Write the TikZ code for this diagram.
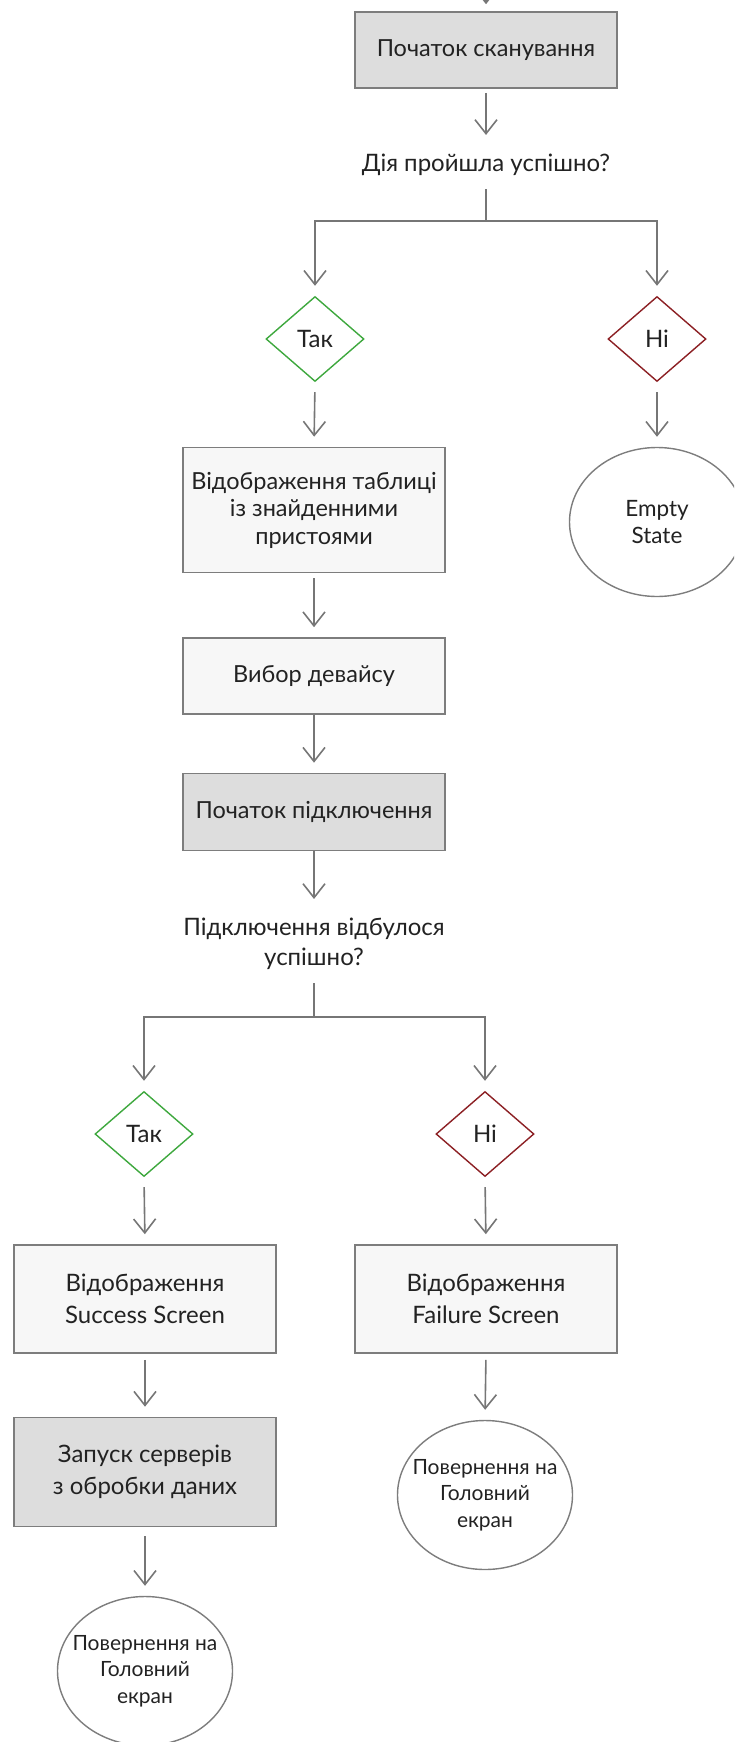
\documentclass[tikz,border=0pt]{standalone}
\usepackage{fontspec}
\setmainfont{Lato}
\usetikzlibrary{shapes.geometric,arrows.meta}

\begin{document}
\begin{tikzpicture}[x=1pt,y=-1pt,
  kasten/.style={draw=rahmen,line width=1.6pt,minimum width=262pt,inner sep=0pt,align=center,text=schrift,font=\fontsize{23.5}{27.5}\selectfont},
  weit/.style={font=\fontsize{24}{32}\selectfont},
  frage/.style={inner xsep=0pt,inner ysep=9pt,align=center,text=schrift,font=\fontsize{24}{30}\selectfont},
  raute/.style={shape=diamond,line width=1.4pt,fill=white,minimum width=98pt,minimum height=85pt,inner sep=0pt,text=schrift,font=\fontsize{24}{28}\selectfont},
  oval/.style={shape=ellipse,draw=rahmen,line width=1.4pt,minimum width=175pt,minimum height=149pt,inner xsep=-20pt,inner ysep=0pt,align=center,text=schrift,font=\fontsize{21}{26.5}\selectfont},
  linie/.style={draw=pfeil,line width=1.6pt},
  pfeilstil/.style={linie,-{Straight Barb[length=14pt,width=22pt,line width=1.6pt]},shorten >=10pt}]

\definecolor{rahmen}{RGB}{125,125,125};
\definecolor{pfeil}{RGB}{118,118,118};
\definecolor{hellf}{RGB}{247,247,247};
\definecolor{dunkelf}{RGB}{221,221,221};
\definecolor{gruen}{RGB}{62,168,62};
\definecolor{rotbraun}{RGB}{140,32,36};
\definecolor{schrift}{RGB}{34,34,34};

\clip (0,0) rectangle (734,1742);

\coordinate (eingang) at (486,-30);
\node[kasten,fill=dunkelf,minimum height=76pt] (scan) at (486,50) {Початок сканування};
\node[frage] (q1) at (486,165) {Дія пройшла успішно?};
\coordinate (j1) at (486,221);

\node[raute,draw=gruen] (ja1) at (315,339) {Так};
\node[raute,draw=rotbraun] (nein1) at (657,339) {Ні};

\node[kasten,fill=hellf,minimum height=125pt] (tabelle) at (314,510) {Відображення таблиці\\із знайденними\\пристоями};
\node[oval,font=\fontsize{22.5}{27}\selectfont] (leer) at (657,522) {Empty\\State};

\node[kasten,fill=hellf,minimum height=76pt] (wahl) at (314,676) {Вибор девайсу};
\node[kasten,fill=dunkelf,minimum height=77pt] (verb) at (314,812) {Початок підключення};
\node[frage] (q2) at (314,944) {Підключення відбулося\\успішно?};
\coordinate (j2) at (314,1017);

\node[raute,draw=gruen] (ja2) at (144,1134) {Так};
\node[raute,draw=rotbraun] (nein2) at (485,1134) {Ні};

\node[kasten,weit,fill=hellf,minimum height=108pt] (erfolg) at (145,1299) {Відображення\\Success Screen};
\node[kasten,weit,fill=hellf,minimum height=108pt] (fehler) at (486,1299) {Відображення\\Failure Screen};

\node[kasten,weit,fill=dunkelf,minimum height=109pt] (server) at (145,1472) {Запуск серверів\\з обробки даних};
\node[oval] (heim2) at (485,1495) {Повернення на\\Головний\\екран};
\node[oval] (heim1) at (145,1671) {Повернення на\\Головний\\екран};

\draw[pfeilstil,shorten >=7pt] (eingang) -- (scan.north);
\draw[pfeilstil,shorten <=4pt] (scan.south) -- (q1.north);
\draw[linie,shorten <=4pt] (q1.south) -- (j1);
\draw[pfeilstil] (j1) -| (ja1.north);
\draw[pfeilstil] (j1) -| (nein1.north);

\draw[pfeilstil,shorten <=10pt] (ja1.south) -- (tabelle.north);
\draw[pfeilstil,shorten <=10pt] (nein1.south) -- (leer.north);
\draw[pfeilstil,shorten <=5pt] (tabelle.south) -- (wahl.north);
\draw[pfeilstil] (wahl.south) -- (verb.north);
\draw[pfeilstil] (verb.south) -- (q2.north);
\draw[linie,shorten <=4pt] (q2.south) -- (j2);
\draw[pfeilstil] (j2) -| (ja2.north);
\draw[pfeilstil] (j2) -| (nein2.north);

\draw[pfeilstil,shorten <=10pt] (ja2.south) -- (erfolg.north);
\draw[pfeilstil,shorten <=10pt] (nein2.south) -- (fehler.north);
\draw[pfeilstil,shorten <=6pt] (erfolg.south) -- (server.north);
\draw[pfeilstil,shorten <=6pt] (fehler.south) -- (heim2.north);
\draw[pfeilstil,shorten <=9pt] (server.south) -- (heim1.north);
\end{tikzpicture}
\end{document}
